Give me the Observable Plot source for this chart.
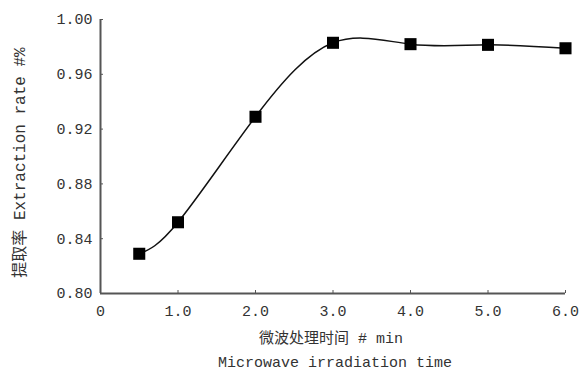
<!DOCTYPE html>
<html>
<head>
<meta charset="utf-8">
<script src="https://cdn.jsdelivr.net/npm/d3@7"></script>
<script src="https://cdn.jsdelivr.net/npm/@observablehq/plot@0.6"></script>
<style>
  body { margin: 0; background: #fff; }
</style>
</head>
<body>
<div id="chart"></div>
<script>
const times = [0.5, 1.0, 2.0, 3.0, 4.0, 5.0, 6.0];
const rates = [0.829, 0.852, 0.929, 0.983, 0.982, 0.9815, 0.979];
const xTicks = [0, 1, 2, 3, 4, 5, 6];
const xTickLabels = ["0", "1.0", "2.0", "3.0", "4.0", "5.0", "6.0"];
const yTicks = [0.80, 0.84, 0.88, 0.92, 0.96, 1.00];
const yTitle = "提取率 Extraction rate #%";
const xTitle1 = "微波处理时间 # min";
const xTitle2 = "Microwave irradiation time";

const data = times.map((t, i) => ({t, r: rates[i]}));
const axisColor = "#555";
const textColor = "#333";
const monoFont = "'Liberation Mono', 'Noto Sans CJK SC', monospace";

const chart = Plot.plot({
  width: 588,
  height: 375,
  marginLeft: 100,
  marginRight: 23,
  marginTop: 19,
  marginBottom: 82,
  style: {fontFamily: monoFont, fontSize: "15px", color: textColor, background: "#fff"},
  x: {domain: [0, 6]},
  y: {domain: [0.80, 1.00]},
  marks: [
    Plot.axisX(xTicks, {tickSize: -3, tickPadding: 15, tickFormat: (d, i) => xTickLabels[i], stroke: axisColor, fill: textColor, fontSize: 15, label: null}),
    Plot.axisY(yTicks, {tickSize: -3, tickPadding: 11, tickFormat: d => d.toFixed(2), stroke: axisColor, fill: textColor, fontSize: 15, label: null}),
    Plot.ruleY([0.80], {stroke: axisColor, strokeWidth: 2}),
    Plot.ruleX([0], {stroke: axisColor, strokeWidth: 2}),
    Plot.line(data, {x: "t", y: "r", curve: "natural", stroke: "#111", strokeWidth: 1.5}),
    Plot.dot(data, {x: "t", y: "r", symbol: "square", r: 6.8, fill: "#000", stroke: "none"}),
    Plot.text([yTitle], {frameAnchor: "left", textAnchor: "middle", rotate: -90, dx: -81, dy: 6, fill: textColor, fontSize: 16, fontFamily: monoFont}),
    Plot.text([xTitle1], {frameAnchor: "bottom", dy: 49, dx: -2, fill: textColor, fontSize: 15, fontFamily: monoFont}),
    Plot.text([xTitle2], {frameAnchor: "bottom", dy: 73, dx: 2, fill: textColor, fontSize: 15, fontFamily: monoFont})
  ]
});
document.getElementById("chart").appendChild(chart);
</script>
</body>
</html>
